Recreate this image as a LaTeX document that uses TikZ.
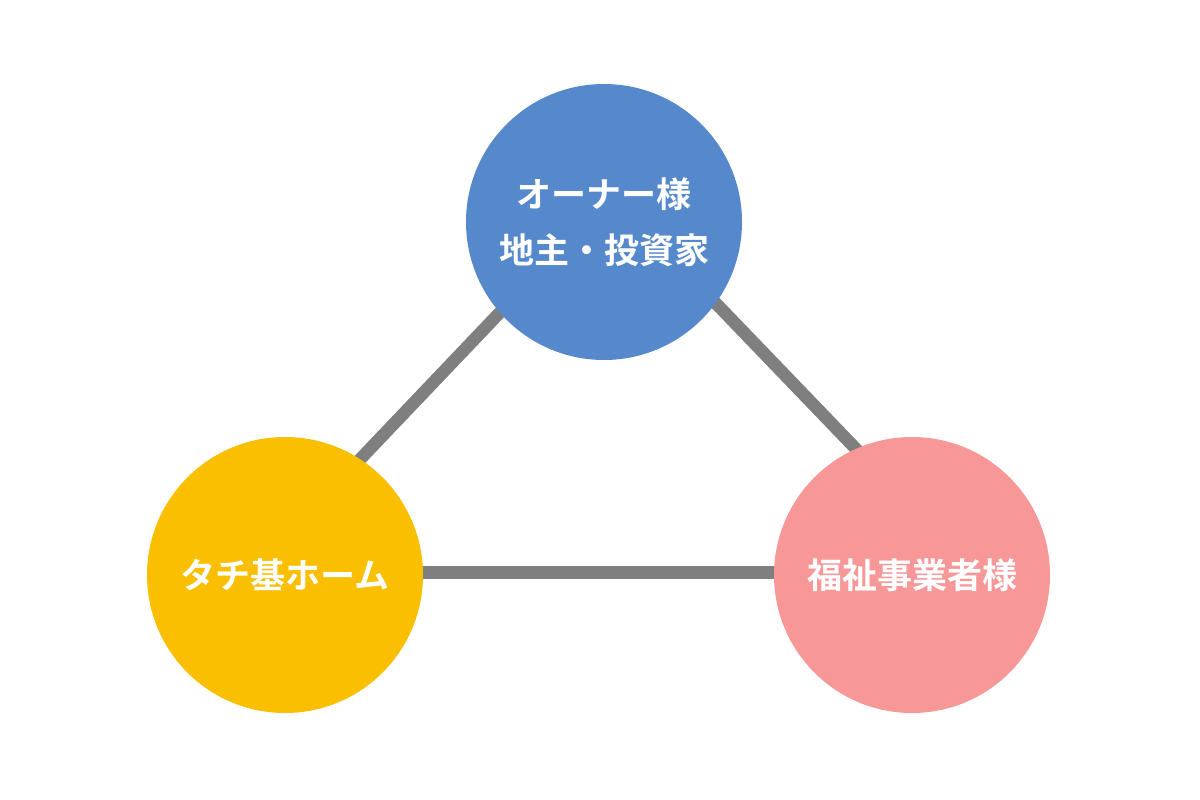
\documentclass[tikz,border=0pt]{standalone}
\usepackage{fontspec}
\newfontfamily\jpfont{Noto Sans CJK JP Bold}
\usetikzlibrary{backgrounds}
\definecolor{cblue}{HTML}{5589CC}
\definecolor{cyellow}{HTML}{F9BF00}
\definecolor{cpink}{HTML}{F79797}
\definecolor{cgray}{HTML}{7F7F7F}
\tikzset{
  party/.style={circle, minimum size=276pt, inner sep=0pt, text=white,
    font=\jpfont\fontsize{35pt}{56pt}\selectfont, align=center},
  link/.style={draw=cgray, line width=12.5pt, shorten <=-20pt, shorten >=-20pt}
}
\begin{document}
\begin{tikzpicture}[x=1pt,y=-1pt]
\useasboundingbox (0,0) rectangle (1200,800);
\node[party, fill=cblue] (owner) at (604,222) {オーナー様\\地主・投資家};
\node[party, fill=cyellow] (tachi) at (285,575) {タチ基ホーム};
\node[party, fill=cpink] (fukushi) at (912,575) {福祉事業者様};
\begin{scope}[on background layer]
\fill[white] (0,0) rectangle (1200,800);
\draw[link] (tachi.57) -- (owner.221);
\draw[link] (owner.-36) -- (fukushi.114);
\draw[link] (tachi.1) -- (fukushi.179);
\end{scope}
\end{tikzpicture}
\end{document}
